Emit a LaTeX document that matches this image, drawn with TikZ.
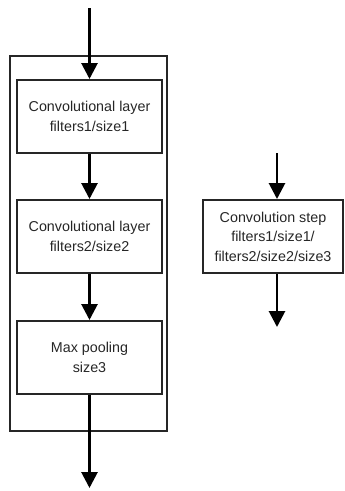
\documentclass[tikz,border=0pt]{standalone}
\usepackage{fontspec}
\setmainfont{Liberation Sans}
\usepackage{xcolor}
\usetikzlibrary{arrows.meta}

\begin{document}
\begin{tikzpicture}[x=1pt,y=-1pt]
		\tikzset{layerbox/.style={draw=black!85, line width=2pt, minimum width=145pt, minimum height=73pt, align=center, text=black!85, font=\fontsize{14.3}{19.5}\selectfont, inner sep=0pt}};
		\tikzset{flowarrow/.style={-{Triangle[width=16pt,length=16pt]}, line width=2.8pt, black}};
		\useasboundingbox (0,0) rectangle (345,491);
		% the stack of layers
		\draw[black!85, line width=2pt] (10,56) rectangle (167,431);
		\node[layerbox] (conv1) at (89.5,116.5) {Convolutional layer\\filters1/size1};
		\node[layerbox] (conv2) at (89.5,236.5) {Convolutional layer\\filters2/size2};
		\node[layerbox] (pool) at (89.5,357.5) {Max pooling\\size3};
		\coordinate (in) at (89.5,8);
		\coordinate (out) at (89.5,488);
		\draw[flowarrow] (in) -- (conv1.north);
		\draw[flowarrow] (conv1) -- (conv2);
		\draw[flowarrow] (conv2) -- (pool);
		\draw[flowarrow] (pool) -- (out);
		
		% the same as one step
		\node[layerbox, minimum width=140pt] (step) at (273,236.5) {Convolution step\\filters1/size1/\\filters2/size2/size3};
		\coordinate (stepin) at (277,153);
		\coordinate (stepout) at (277,327);
		\draw[flowarrow] (stepin) -- (stepin |- step.north);
		\draw[flowarrow] (stepin |- step.south) -- (stepout);
\end{tikzpicture}
\end{document}
